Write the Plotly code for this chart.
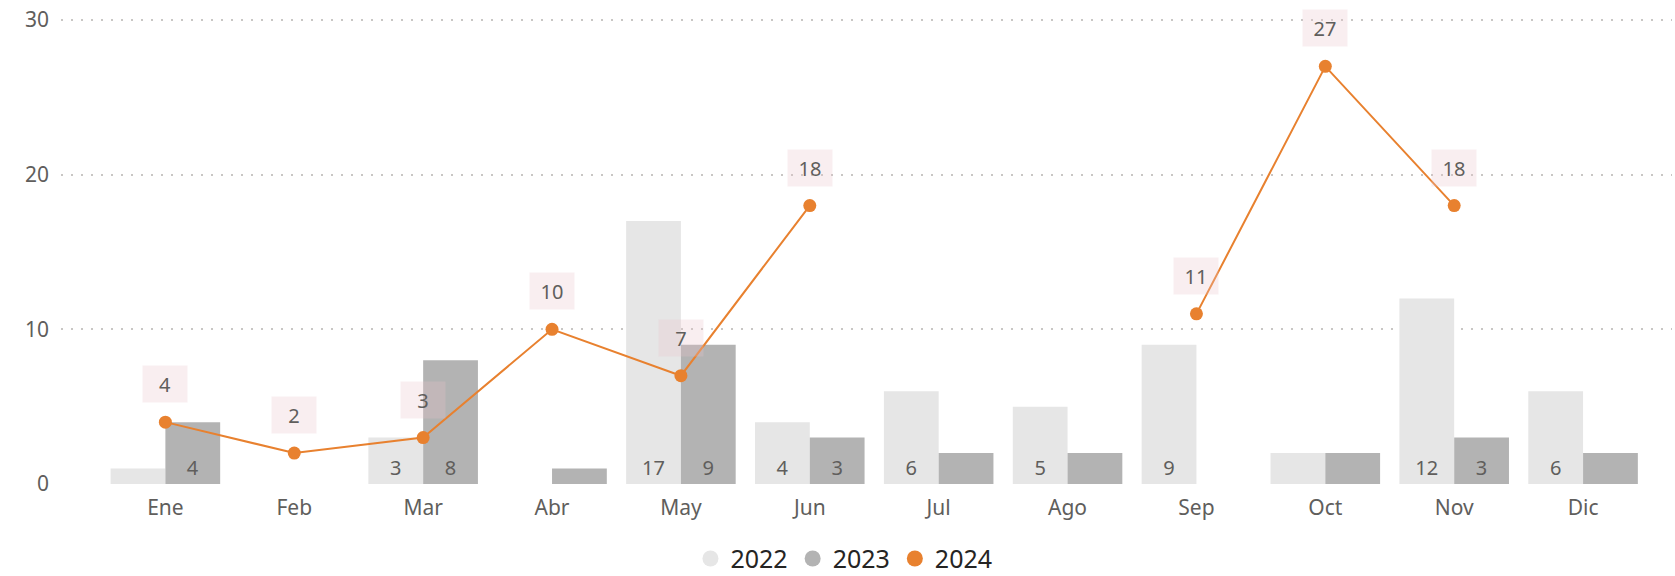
import plotly.graph_objects as go

months = ["Ene", "Feb", "Mar", "Abr", "May", "Jun", "Jul", "Ago", "Sep", "Oct", "Nov", "Dic"]
v2022 = [1, 0, 3, 0, 17, 4, 6, 5, 9, 2, 12, 6]
v2023 = [4, 0, 8, 1, 9, 3, 2, 2, 0, 2, 3, 2]
v2024 = [4, 2, 3, 10, 7, 18, None, None, 11, 27, 18, None]
y_ticks = [0, 10, 20, 30]

C22 = "#E6E6E6"
C23 = "#B3B3B3"
C24 = "#E8812F"
TXT = "#605E5C"
FONT = "Noto Sans"


def lbl(vals):
    return [str(v) if v >= 3 else "" for v in vals]


fig = go.Figure()
fig.add_trace(go.Bar(x=months, y=v2022, marker=dict(color=C22, line=dict(width=0)), name="2022",
                     showlegend=False,
                     text=lbl(v2022), textposition="inside", insidetextanchor="start",
                     textfont=dict(color=TXT, size=20, family=FONT), textangle=0))
fig.add_trace(go.Bar(x=months, y=v2023, marker=dict(color=C23, line=dict(width=0)), name="2023",
                     showlegend=False,
                     text=lbl(v2023), textposition="inside", insidetextanchor="start",
                     textfont=dict(color=TXT, size=20, family=FONT), textangle=0))
fig.add_trace(go.Scatter(x=months, y=v2024, mode="lines+markers", name="2024", showlegend=False,
                         line=dict(color=C24, width=2), marker=dict(color=C24, size=13),
                         connectgaps=False))

# legend-only entries (circles)
for nm, col in [("2022", C22), ("2023", C23), ("2024", C24)]:
    fig.add_trace(go.Scatter(x=[None], y=[None], mode="markers", name=nm,
                             marker=dict(color=col, size=20, symbol="circle")))

for m, v in zip(months, v2024):
    if v is None:
        continue
    fig.add_annotation(x=m, y=v, xref="x", yref="y", text=str(v), showarrow=False,
                       yshift=38, width=42, height=34, borderpad=1,
                       bgcolor="rgba(235,195,200,0.28)",
                       font=dict(color=TXT, size=20, family=FONT))

fig.update_layout(
    width=1675, height=576,
    margin=dict(l=61, r=3, t=15, b=92),
    paper_bgcolor="white", plot_bgcolor="white",
    barmode="group", bargap=0.15, bargroupgap=0,
    font=dict(family=FONT, color=TXT),
    legend=dict(orientation="h", x=0.486, xanchor="center", yref="container", y=0.03,
                yanchor="middle",
                font=dict(size=25, color="#252423", family=FONT), itemwidth=30,
                tracegroupgap=0),
    xaxis=dict(type="category", range=[-0.81, 11.69], showgrid=False, showline=False,
               ticks="", tickfont=dict(size=21, color=TXT, family=FONT), ticklabelstandoff=9,
               automargin=False),
    yaxis=dict(range=[0, 30.32], tickvals=y_ticks, showgrid=True, gridcolor="#C8C6C4",
               griddash="2px,8px", gridwidth=1.5, zeroline=False, showline=False, ticks="",
               tickfont=dict(size=21, color=TXT, family=FONT), ticklabelstandoff=11,
               automargin=False),
)

fig.write_html("out.html", config={"displayModeBar": False},
               post_script="document.body.style.margin='0';document.body.style.overflow='hidden';")
